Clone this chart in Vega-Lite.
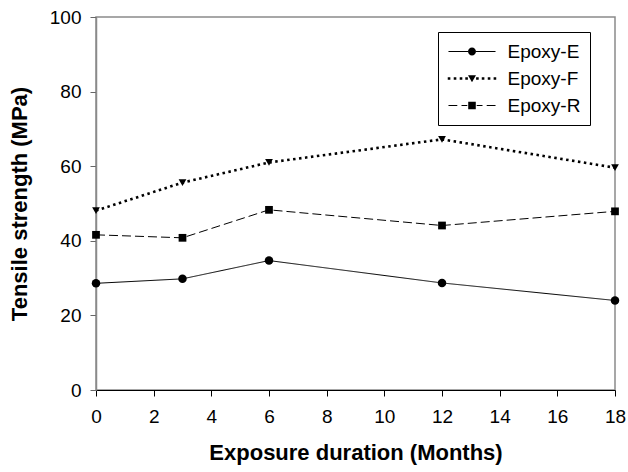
{
  "$schema": "https://vega.github.io/schema/vega-lite/v6.json",
  "width": 519,
  "height": 373,
  "autosize": {"type": "none"},
  "padding": {"left": 96, "top": 17, "right": 13, "bottom": 82},
  "background": "white",
  "config": {
    "font": "Liberation Sans",
    "view": {"stroke": "#8a8a8a", "strokeWidth": 1.5},
    "axis": {"grid": false}
  },
  "data": {
    "values": [
      {"month": 0, "series": "Epoxy-E", "strength": 28.6},
      {"month": 3, "series": "Epoxy-E", "strength": 29.8},
      {"month": 6, "series": "Epoxy-E", "strength": 34.7},
      {"month": 12, "series": "Epoxy-E", "strength": 28.7},
      {"month": 18, "series": "Epoxy-E", "strength": 24.0},
      {"month": 0, "series": "Epoxy-F", "strength": 48.1},
      {"month": 3, "series": "Epoxy-F", "strength": 55.6},
      {"month": 6, "series": "Epoxy-F", "strength": 61.0},
      {"month": 12, "series": "Epoxy-F", "strength": 67.2},
      {"month": 18, "series": "Epoxy-F", "strength": 59.6},
      {"month": 0, "series": "Epoxy-R", "strength": 41.6},
      {"month": 3, "series": "Epoxy-R", "strength": 40.8},
      {"month": 6, "series": "Epoxy-R", "strength": 48.3},
      {"month": 12, "series": "Epoxy-R", "strength": 44.1},
      {"month": 18, "series": "Epoxy-R", "strength": 47.9}
    ]
  },
  "encoding": {
    "x": {
      "field": "month", "type": "quantitative",
      "scale": {"domain": [0, 18], "nice": false},
      "axis": {"values": [0, 2, 4, 6, 8, 10, 12, 14, 16, 18], "title": "Exposure duration (Months)", "domainColor": "#000", "tickColor": "#000", "tickSize": 6, "labelFontSize": 19, "labelColor": "#000", "labelPadding": 11, "labelFlush": false, "titleFontSize": 22, "titleFontWeight": "bold", "titleColor": "#000", "titlePadding": 16}
    },
    "y": {
      "field": "strength", "type": "quantitative",
      "scale": {"domain": [0, 100], "nice": false},
      "axis": {"values": [0, 20, 40, 60, 80, 100], "title": "Tensile strength (MPa)", "domainColor": "#8a8a8a", "domainWidth": 1.5, "tickColor": "#666", "tickSize": 6, "labelFontSize": 19, "labelColor": "#000", "labelPadding": 9, "labelFlush": false, "titleFontSize": 22, "titleFontWeight": "bold", "titleColor": "#000", "titlePadding": 18}
    }
  },
  "layer": [
    {
      "mark": {"type": "line", "color": "#000"},
      "encoding": {
        "detail": {"field": "series"},
        "strokeDash": {
          "field": "series", "type": "nominal",
          "scale": {"domain": ["Epoxy-E", "Epoxy-F", "Epoxy-R"], "range": [[1, 0], [2.5, 3.5], [9, 4]]},
          "legend": null
        },
        "strokeWidth": {"condition": {"test": "datum.series === 'Epoxy-F'", "value": 2.6}, "value": 1}
      }
    },
    {
      "mark": {"type": "point", "filled": true, "color": "#000", "opacity": 1},
      "encoding": {
        "shape": {
          "field": "series", "type": "nominal",
          "scale": {"domain": ["Epoxy-E", "Epoxy-F", "Epoxy-R"], "range": ["circle", "triangle-down", "square"]},
          "legend": null
        },
        "size": {"condition": {"test": "datum.series === 'Epoxy-E'", "value": 72}, "value": 60}
      }
    },
    {
      "transform": [{"filter": "false"}],
      "mark": {"type": "point", "filled": true, "color": "#000", "opacity": 1},
      "encoding": {
        "shape": {
          "field": "series", "type": "nominal",
          "scale": {
            "domain": ["Epoxy-E", "Epoxy-F", "Epoxy-R"],
            "range": [
              "M-2.24,-0.05H-0.38V0.05H-2.24ZM0.38,-0.05H2.24V0.05H0.38ZM-0.38,0A0.38,0.38,0,1,1,0.38,0A0.38,0.38,0,1,1,-0.38,0Z",
              "M-2.31,-0.124h0.248v0.248h-0.248ZM-1.74,-0.124h0.248v0.248h-0.248ZM-1.17,-0.124h0.248v0.248h-0.248ZM-0.64,-0.124h0.248v0.248h-0.248ZM0.39,-0.124h0.248v0.248h-0.248ZM0.93,-0.124h0.248v0.248h-0.248ZM1.5,-0.124h0.248v0.248h-0.248ZM2.06,-0.124h0.248v0.248h-0.248ZM-0.38,-0.3H0.38L0,0.36Z",
              "M-2.24,-0.05H-1.4V0.05H-2.24ZM-1.0,-0.05H-0.45V0.05H-1.0ZM0.45,-0.05H1.0V0.05H0.45ZM1.4,-0.05H2.24V0.05H1.4ZM-0.36,-0.36H0.36V0.36H-0.36Z"
            ]
          },
          "legend": {
            "title": null,
            "orient": "none",
            "legendX": 342,
            "legendY": 15,
            "symbolSize": 441,
            "symbolFillColor": "#000",
            "symbolStrokeColor": "transparent",
            "symbolStrokeWidth": 0,
            "symbolOffset": 14.5,
            "labelFontSize": 19,
            "labelColor": "#000",
            "labelOffset": 25,
            "labelExpr": "datum.label + '    \u2009'",
            "strokeColor": "#000",
            "fillColor": "#fff",
            "padding": 9,
            "rowPadding": 6
          }
        }
      }
    }
  ],
  "resolve": {"scale": {"shape": "independent"}}
}
